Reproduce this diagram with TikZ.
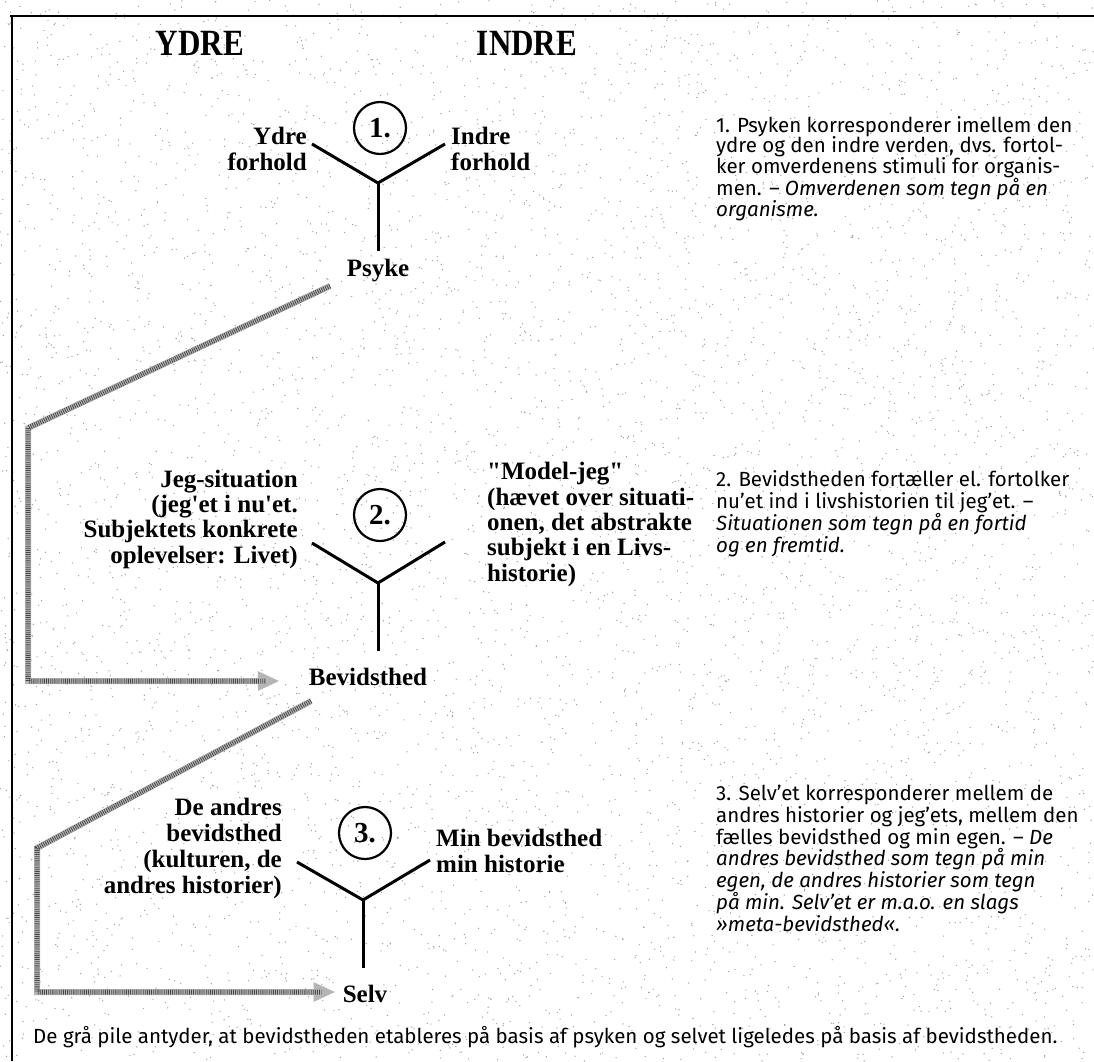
\documentclass[tikz,border=0pt]{standalone}
\usepackage{fontspec}
\setmainfont{Fira Sans}
\newfontfamily\labfont{Liberation Serif}
\newfontfamily\headfont[FakeStretch=0.84]{Liberation Serif}
\usetikzlibrary{arrows.meta}
\begin{document}
\begin{tikzpicture}[x=1pt,y=-1pt,
  lab/.style={font=\labfont\bfseries\fontsize{25}{26}\selectfont, inner sep=0pt},
  labtwo/.style={font=\labfont\bfseries\fontsize{25}{25.3}\selectfont, inner sep=0pt},
  head/.style={font=\headfont\bfseries\fontsize{37}{37}\selectfont, inner sep=0pt},
  num/.style={circle, draw, line width=2.2pt, minimum size=52pt, inner sep=0pt,
              font=\labfont\bfseries\fontsize{29}{29}\selectfont},
  txt/.style={font=\fontsize{20.5}{21.7}\selectfont, inner sep=0pt, align=left, anchor=base west},
  yline/.style={line width=3pt},
  garrow/.style={draw=gray!58, line width=6pt, -{Triangle[length=22pt,width=18pt]},
     postaction={draw=black!72, line width=5pt, dash pattern=on 0.8pt off 1.3pt, -, shorten >=14pt}},
  frame/.style={line width=2pt}
]
\useasboundingbox (0,0) rectangle (1094,1061);
\fill[white] (0,0) rectangle (1094,1061);
\pgfmathsetseed{11}
\foreach \i in {1,...,6000}{\fill[black!38] ({rnd*1094},{rnd*1061}) circle (0.7);}
% frame
\draw[frame] (10,16) -- (1094,16);
\draw[frame] (12,16) -- (12,1061);
% headings
\node[head, anchor=base] (ydre) at (200,55) {YDRE};
\node[head, anchor=base] (indre) at (527,55) {INDRE};
% ---- 1
\node[num] (c1) at (380,128) {1.};
\node[lab, align=right, anchor=base east] (yf) at (307,170) {Ydre\\forhold};
\node[lab, align=left, anchor=base west] (if) at (451,170) {Indre\\forhold};
\node[lab, anchor=base] (psyke) at (378,276) {Psyke};
\coordinate (j1) at (378,183);
\coordinate (l1) at (312,144);
\coordinate (r1) at (445,144);
\draw[yline] (l1) -- (j1) -- (r1);
\draw[yline, shorten >=7pt] (j1) -- (j1 |- psyke.north);
% ---- 2
\node[num] (c2) at (380,515) {2.};
\node[labtwo, align=right, anchor=base east] (jeg) at (298,563)
  {Jeg-situation\\(jeg'et i nu'et.\\Subjektets konkrete\\oplevelser: Livet)};
\node[labtwo, align=left, anchor=base west] (model) at (487,581)
  {"Model-jeg"\\(hævet over situati-\\onen, det abstrakte\\subjekt i en Livs-\\historie)};
\node[lab, anchor=base] (bev) at (368,685) {Bevidsthed};
\coordinate (j2) at (378,583);
\coordinate (l2) at (312,543);
\coordinate (r2) at (445,542);
\draw[yline] (l2) -- (j2) -- (r2);
\draw[yline, shorten >=16pt] (j2) -- (j2 |- bev.north);
% ---- 3
\node[num] (c3) at (365,833) {3.};
\node[lab, align=right, anchor=base east] (andres) at (282,893)
  {De andres\\bevidsthed\\(kulturen, de\\andres historier)};
\node[lab, align=left, anchor=base west] (min) at (436,872)
  {Min bevidsthed\\min historie};
\node[lab, anchor=base] (selv) at (365,1002) {Selv};
\coordinate (j3) at (363,900);
\coordinate (l3) at (297,862);
\coordinate (r3) at (430,860);
\draw[yline] (l3) -- (j3) -- (r3);
\draw[yline, shorten >=16pt] (j3) -- (j3 |- selv.north);
% ---- grey arrows
\coordinate (a1s) at (330,286);
\coordinate (a1b) at (28,428);
\draw[garrow] (a1s) -- (a1b) |- ([xshift=-29pt,yshift=4pt]bev.base west);
\coordinate (a2s) at (311,701);
\coordinate (a2b) at (37,848);
\draw[garrow] (a2s) -- (a2b) |- ([xshift=-7pt,yshift=10pt]selv.base west);
% ---- right texts
\node[txt, font=\fontsize{20.5}{20.5}\selectfont] (t1) at (716,216)
  {1. Psyken korresponderer imellem den\\ydre og den indre verden, dvs. fortol-\\ker omverdenens stimuli for organis-\\men. \textit{– Omverdenen som tegn på en}\\\textit{organisme.}};
\node[txt] (t2) at (716,552)
  {2. Bevidstheden fortæller el. fortolker\\nu'et ind i livshistorien til jeg'et. –\\\textit{Situationen som tegn på en fortid}\\\textit{og en fremtid.}};
\node[txt] (t3) at (716,931)
  {3. Selv'et korresponderer mellem de\\andres historier og jeg'ets, mellem den\\fælles bevidsthed og min egen. – \textit{De}\\\textit{andres bevidsthed som tegn på min}\\\textit{egen, de andres historier som tegn}\\\textit{på min. Selv'et er m.a.o. en slags}\\\textit{»meta-bevidsthed«.}};
\node[txt, font=\fontsize{20.5}{21}\selectfont] (cap) at (33,1043)
  {De grå pile antyder, at bevidstheden etableres på basis af psyken og selvet ligeledes på basis af bevidstheden.};
\end{tikzpicture}
\end{document}
